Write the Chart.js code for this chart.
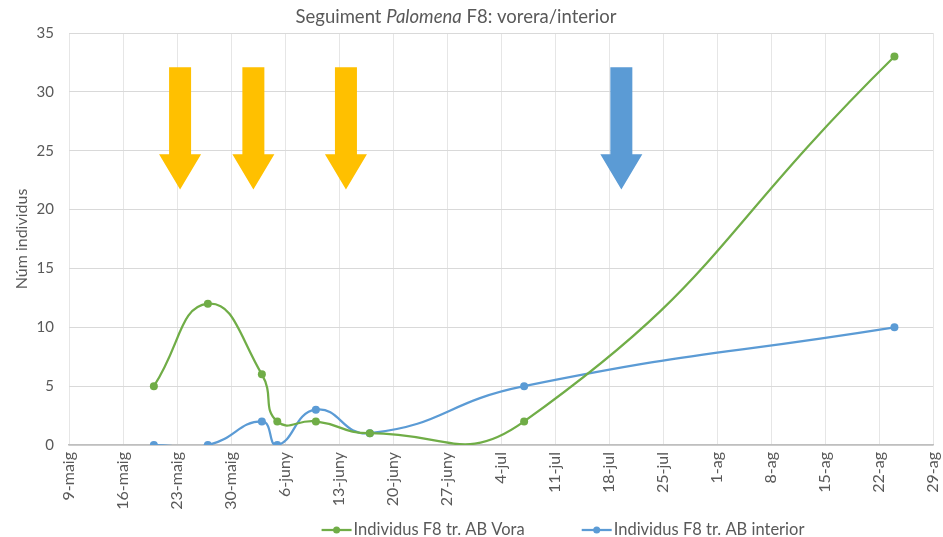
<!DOCTYPE html>
<html>
<head>
<meta charset="utf-8">
<script src="https://cdn.jsdelivr.net/npm/chart.js@4.4.1/dist/chart.umd.min.js"></script>
<style>
  html, body { margin: 0; padding: 0; background: #fff; }
  canvas { display: block; }
</style>
</head>
<body>
<canvas id="chart" width="943" height="537"></canvas>
<script>
// Seguiment Palomena F8 - counts per sample date (vorera vs interior)
const sampleDates = ['2019-05-20', '2019-05-27', '2019-06-03', '2019-06-05', '2019-06-10', '2019-06-17', '2019-07-07', '2019-08-24'];
const voraValues = [5, 12, 6, 2, 2, 1, 2, 33];
const interiorValues = [0, 0, 2, 0, 3, 1, 5, 10];
const tickLabels = ['9-maig', '16-maig', '23-maig', '30-maig', '6-juny', '13-juny', '20-juny', '27-juny',
  '4-jul', '11-jul', '18-jul', '25-jul', '1-ag', '8-ag', '15-ag', '22-ag', '29-ag'];
// treatment arrows (days since 9-maig), orange = vorera, blue = interior
const arrowDays = [14.4, 23.9, 35.9, 71.6];
const arrowColors = ['#FFC000', '#FFC000', '#FFC000', '#5B9BD5'];

const GREEN = '#70AD47';
const BLUE = '#5B9BD5';
const TEXT = '#595959';
const FONT = 'Lato, "Open Sans", sans-serif';

const day0 = Date.UTC(2019, 4, 9);
const dayOf = s => (Date.parse(s + 'T00:00:00Z') - day0) / 86400000;
const toPoints = vals => sampleDates.map((d, i) => ({ x: dayOf(d), y: vals[i] }));

// title with italic species name
const titlePlugin = {
  id: 'mixedTitle',
  afterDraw(chart) {
    const ctx = chart.ctx;
    const parts = [['Seguiment ', ''], ['Palomena', 'italic '], [' F8: vorera/interior', '']];
    ctx.save();
    ctx.fillStyle = TEXT;
    ctx.textBaseline = 'middle';
    let total = 0;
    parts.forEach(p => { ctx.font = p[1] + '18.5px ' + FONT; total += ctx.measureText(p[0]).width; });
    let x = 456 - total / 2;
    parts.forEach(p => {
      ctx.font = p[1] + '18.5px ' + FONT;
      ctx.fillText(p[0], x, 17);
      x += ctx.measureText(p[0]).width;
    });
    ctx.restore();
  }
};

// block arrows marking treatments
const arrowPlugin = {
  id: 'arrows',
  beforeDatasetsDraw(chart) {
    const { ctx, scales: { x, y } } = chart;
    ctx.save();
    arrowDays.forEach((d, i) => {
      const cx = x.getPixelForValue(d);
      const top = y.getPixelForValue(32.1);
      const neck = y.getPixelForValue(24.7);
      const tip = y.getPixelForValue(21.7);
      ctx.fillStyle = arrowColors[i];
      ctx.beginPath();
      ctx.moveTo(cx - 11, top);
      ctx.lineTo(cx + 11, top);
      ctx.lineTo(cx + 11, neck);
      ctx.lineTo(cx + 21, neck);
      ctx.lineTo(cx, tip);
      ctx.lineTo(cx - 21, neck);
      ctx.lineTo(cx - 11, neck);
      ctx.closePath();
      ctx.fill();
    });
    ctx.restore();
  }
};

// excel style legend: line with marker
const legendPlugin = {
  id: 'lineLegend',
  afterDraw(chart) {
    const ctx = chart.ctx;
    ctx.save();
    ctx.font = '16.5px ' + FONT;
    ctx.textBaseline = 'middle';
    const yy = 530;
    const items = chart.data.datasets.map(ds => ({ text: ds.label, color: ds.borderColor }));
    const gap = 57;
    const widths = items.map(it => 32 + ctx.measureText(it.text).width);
    let x = 563 - (widths.reduce((a, b) => a + b, 0) + gap) / 2;
    items.forEach((it, i) => {
      ctx.strokeStyle = it.color;
      ctx.lineWidth = 2.25;
      ctx.beginPath();
      ctx.moveTo(x, yy);
      ctx.lineTo(x + 30, yy);
      ctx.stroke();
      ctx.fillStyle = it.color;
      ctx.beginPath();
      ctx.arc(x + 15, yy, 3.5, 0, Math.PI * 2);
      ctx.fill();
      ctx.fillStyle = TEXT;
      ctx.fillText(it.text, x + 32, yy);
      x += widths[i] + gap;
    });
    ctx.restore();
  }
};

new Chart(document.getElementById('chart'), {
  type: 'line',
  data: {
    datasets: [
      {
        label: 'Individus F8 tr. AB Vora',
        data: toPoints(voraValues),
        borderColor: GREEN,
        backgroundColor: GREEN,
        borderWidth: 2.25,
        pointRadius: 4,
        pointBorderWidth: 0,
        tension: 0.5
      },
      {
        label: 'Individus F8 tr. AB interior',
        data: toPoints(interiorValues),
        borderColor: BLUE,
        backgroundColor: BLUE,
        borderWidth: 2.25,
        pointRadius: 4,
        pointBorderWidth: 0,
        tension: 0.5
      }
    ]
  },
  options: {
    responsive: false,
    animation: false,
    layout: { padding: { top: 33, right: 10, left: 0, bottom: 0 } },
    elements: { line: { capBezierPoints: false } },
    plugins: {
      legend: { display: false },
      title: { display: false },
      tooltip: { enabled: false }
    },
    scales: {
      x: {
        type: 'linear',
        min: 0,
        max: 112,
        afterFit: s => { s.height = 92; s.paddingRight = 0; s.paddingLeft = 0; },
        afterBuildTicks: s => { s.ticks = tickLabels.map((t, i) => ({ value: i * 7 })); },
        grid: { color: '#E6E6E6', drawTicks: false },
        border: { color: '#BFBFBF', width: 1.5 },
        ticks: {
          autoSkip: false,
          maxRotation: 90,
          minRotation: 90,
          padding: 7,
          color: TEXT,
          font: { family: FONT, size: 16 },
          callback: (v, i) => tickLabels[i]
        }
      },
      y: {
        min: 0,
        max: 35,
        afterFit: s => { s.width = 69; },
        grid: { color: '#D9D9D9', drawTicks: false },
        border: { display: false },
        ticks: {
          stepSize: 5,
          padding: 15,
          color: TEXT,
          font: { family: FONT, size: 15 }
        },
        title: {
          display: true,
          text: 'Núm individus',
          color: TEXT,
          font: { family: FONT, size: 16 },
          padding: { top: 12, bottom: 0 }
        }
      }
    }
  },
  plugins: [arrowPlugin, titlePlugin, legendPlugin]
});
</script>
</body>
</html>
